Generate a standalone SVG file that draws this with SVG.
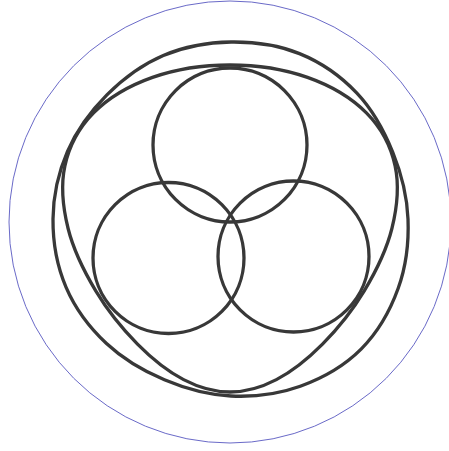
<svg xmlns="http://www.w3.org/2000/svg" width="449" height="451" viewBox="0 0 449 451">
<style>
.ring{fill:none;stroke:#383838;stroke-width:3.3}
.outer{fill:none;stroke:#6a6ac8;stroke-width:1}
</style>
<rect width="449" height="451" fill="#ffffff"/>
<circle class="outer" cx="230" cy="222" r="221"/>
<path id="bigP" class="ring" d="M408,219 C408.9,241.7 406,266.6 398.2,288.3 S377.4,332.8 361.1,349.1 S322,378.4 300.3,386.2 S253.7,397.1 231,396 S185.2,388.6 164.4,379.8 S122.9,358.9 106.5,343.5 S75,308.1 66.1,287.3 S52.8,241.7 53,219 S58.5,172 67.5,151.3 S90.9,110.9 106.9,94.9 S142.6,64.3 163.3,55.5 S208.3,42.3 231,42 S278.5,45.1 299.5,53.6 S341.4,76.7 356.9,93.1 S384.2,131 392.7,152 S407.1,196.3 408,219 Z"/>
<path id="bigQ" class="ring" d="M391.9,228.5 C386.7,249.4 375.7,271.8 364.1,291.1 S337.1,329.4 322.5,344.1 S291.8,371.6 276.4,379.6 S245.5,392 230,392 S199,387.6 183.6,379.6 S152.1,358.9 137.5,344.1 S107.5,310.4 95.9,291.1 S73.3,249.4 68.1,228.5 S60.7,185.2 64.9,165.9 S79,127.7 93.6,112.9 S129.8,85.4 152.5,77.4 S204.2,65 230,65 S284.8,69.4 307.5,77.4 S351.8,98.2 366.4,112.9 S390.9,146.6 395.1,165.9 S397.1,207.6 391.9,228.5 Z"/>
<circle id="top" class="ring" cx="230" cy="145" r="77"/>
<circle id="bottomLeft" class="ring" cx="168.5" cy="258" r="75.5"/>
<circle id="bottomRight" class="ring" cx="293.5" cy="256.5" r="75.5"/>
</svg>
